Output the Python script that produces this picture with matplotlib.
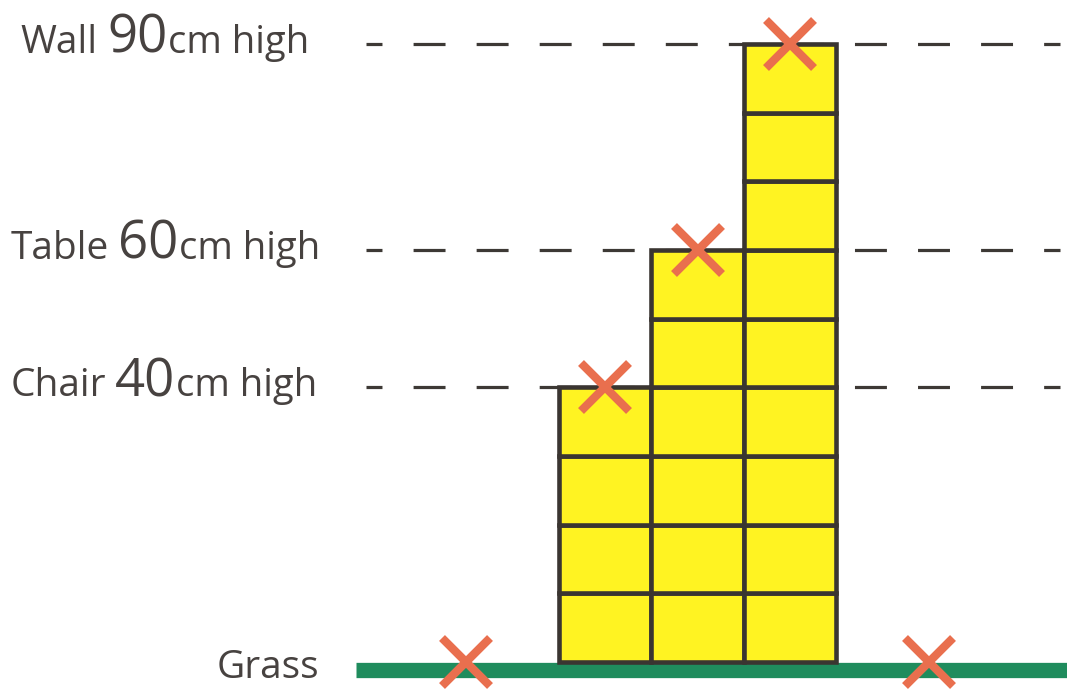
import matplotlib
matplotlib.use("Agg")
import matplotlib.pyplot as plt

plt.rcParams['lines.scale_dashes'] = False
plt.rcParams['font.family'] = ['Open Sans', 'DejaVu Sans']

# ---- data ----
objects = ["Chair", "Table", "Wall"]
heights_cm = [40, 60, 90]
block_cm = 10
grass_label = "Grass"
grass_marks_x = [-1, 4]          # column units, one column outside the stack
label_order = ["Wall", "Table", "Chair"]
label_heights = [90, 60, 40]

# ---- colours ----
YELLOW = "#fff322"
OUTLINE = "#3a3531"
GRASS = "#1f8c5d"
CROSS = "#e96f4e"
TEXT = "#474240"
DASH = "#3d3935"

W, H = 1067, 690
fig = plt.figure(figsize=(W / 100, H / 100), dpi=100)
ax = fig.add_axes([0, 0, 1, 1])
ax.axis('off')

# pixel geometry mapping (x: column edges at 0..3, y: cm)
X0_PX, COL_PX = 559.0, 92.5
Y0_PX, CM_PX = 662.0, 6.867
ax.set_xlim(-X0_PX / COL_PX, (W - X0_PX) / COL_PX)
ax.set_ylim((Y0_PX - H) / CM_PX, Y0_PX / CM_PX)

def px2x(px):
    return (px - X0_PX) / COL_PX

# dashed reference lines (behind the blocks)
for h in label_heights:
    ax.plot([px2x(366), px2x(1060)], [h, h], color=DASH, lw=2.3,
            linestyle=(11.5, (23.0, 22.4)), solid_capstyle='butt',
            dash_capstyle='butt', zorder=1)

# grass
ax.plot([px2x(356), px2x(W + 5)], [-1.16, -1.16], color=GRASS, lw=11,
        solid_capstyle='butt', zorder=2)

# stacks of blocks
for i, h in enumerate(heights_cm):
    n = h // block_cm
    for k in range(n):
        ax.bar(i, block_cm, bottom=k * block_cm, width=1, align='edge',
               color=YELLOW, edgecolor=OUTLINE, linewidth=3.3, zorder=3)

# crosses on top of stacks and on the grass
ax.plot([i + 0.5 for i in range(len(heights_cm))], heights_cm, linestyle='none',
        marker='x', ms=35, mew=6, color=CROSS, zorder=5)
ax.plot(grass_marks_x, [0] * len(grass_marks_x), linestyle='none',
        marker='x', ms=35, mew=6, color=CROSS, zorder=5)

# labels
fig.canvas.draw()
r = fig.canvas.get_renderer()
start_px = {"Wall": 20, "Table": 11, "Chair": 11}
gap_px = {"Wall": 10, "Table": 9, "Chair": 8}
for name, h in zip(label_order, label_heights):
    yb = h - 9.0 / CM_PX
    t1 = ax.text(px2x(start_px[name]), yb, name, fontsize=28, color=TEXT,
                 ha='left', va='baseline', zorder=6)
    e1 = t1.get_window_extent(r)
    t2 = ax.text(px2x(e1.x1 + gap_px[name]), yb, str(h), fontsize=38,
                 color=TEXT, ha='left', va='baseline', zorder=6)
    e2 = t2.get_window_extent(r)
    ax.text(px2x(e2.x1 + 1), yb, "cm high", fontsize=27.5, color=TEXT,
            ha='left', va='baseline', zorder=6)

ax.text(px2x(217), (Y0_PX - 678) / CM_PX, grass_label, fontsize=28,
        color=TEXT, ha='left', va='baseline', zorder=6)

fig.savefig("out.png", dpi=100)
